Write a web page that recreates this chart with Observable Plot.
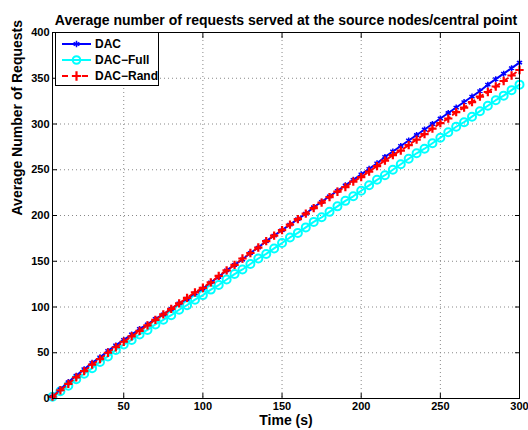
<!DOCTYPE html>
<html>
<head>
<meta charset="utf-8">
<script src="https://cdn.jsdelivr.net/npm/d3@7"></script>
<script src="https://cdn.jsdelivr.net/npm/@observablehq/plot@0.6"></script>
<style>
  body { margin: 0; background: #fff; }
  #chart { position: relative; width: 528px; height: 430px; font-family: "Liberation Sans", Arial, sans-serif; }
  #legend { position: absolute; left: 55px; top: 32px; width: 104px; height: 54px; border: 1px solid #000; background: #fff; box-sizing: border-box; }
  .row { position: absolute; left: 0; height: 16px; display: flex; align-items: center; font-weight: bold; font-size: 12px; color: #000; white-space: nowrap; }
  .row svg { margin-left: 5px; margin-right: 3px; }
</style>
</head>
<body>
<div id="chart"><div id="legend"></div></div>
<script>
// Simulation time in seconds (sampled every 5 s)
const time = [5, 10, 15, 20, 25, 30, 35, 40, 45, 50, 55, 60, 65, 70, 75, 80, 85, 90, 95, 100,
  105, 110, 115, 120, 125, 130, 135, 140, 145, 150, 155, 160, 165, 170, 175, 180, 185, 190, 195, 200,
  205, 210, 215, 220, 225, 230, 235, 240, 245, 250, 255, 260, 265, 270, 275, 280, 285, 290, 295, 300];

// Average number of requests served
const dac = [2, 10, 18, 25, 32, 39, 45, 52, 58, 64, 70, 76, 81, 87, 92, 98, 104, 109, 115, 120,
  127, 133, 140, 146, 152, 159, 165, 172, 178, 184, 190, 196, 202, 209, 215, 221, 227, 233, 239, 245,
  251, 257, 264, 270, 276, 282, 288, 294, 300, 306, 312, 318, 324, 330, 336, 343, 349, 355, 361, 367];
const dacFull = [2, 8, 14, 21, 27, 33, 40, 46, 53, 59, 64, 70, 75, 81, 86, 91, 97, 102, 108, 113,
  119, 124, 130, 136, 141, 147, 153, 158, 164, 170, 176, 181, 187, 193, 198, 204, 210, 216, 221, 227,
  233, 239, 244, 250, 256, 262, 268, 273, 279, 285, 291, 297, 302, 308, 314, 320, 326, 331, 337, 343];
const dacRand = [2, 9, 16, 23, 30, 37, 43, 50, 56, 62, 68, 74, 80, 86, 92, 98, 104, 110, 116, 121,
  127, 134, 140, 146, 153, 159, 165, 172, 178, 184, 190, 196, 202, 208, 214, 220, 226, 231, 237, 242,
  248, 254, 260, 266, 271, 277, 283, 289, 295, 301, 306, 313, 318, 324, 330, 335, 341, 347, 353, 359];

const xTicks = [50, 100, 150, 200, 250, 300];
const yTicks = [0, 50, 100, 150, 200, 250, 300, 350, 400];

const titleText = "Average number of requests served at the source nodes/central point";
const xLabel = "Time (s)";
const yLabel = "Average Number of Requests";

const toRows = (vals) => vals.map((v, i) => ({t: time[i], v}));
const rowsDac = toRows(dac), rowsFull = toRows(dacFull), rowsRand = toRows(dacRand);

const gridStyle = {stroke: "#888", strokeOpacity: 1, strokeWidth: 1, strokeDasharray: "1,3"};

const chart = Plot.plot({
  width: 528,
  height: 430,
  marginLeft: 52,
  marginRight: 9,
  marginTop: 32,
  marginBottom: 32,
  style: {fontFamily: "'Liberation Sans', Arial, sans-serif", fontWeight: "bold", fontSize: "11px", color: "#000", background: "#fff"},
  x: {domain: [5, 300]},
  y: {domain: [0, 400]},
  marks: [
    Plot.gridX(xTicks, gridStyle),
    Plot.gridY(yTicks, gridStyle),
    // DAC-Full: cyan solid line with circles
    Plot.line(rowsFull, {x: "t", y: "v", stroke: "#00ffff", strokeWidth: 2}),
    Plot.dot(rowsFull, {x: "t", y: "v", r: 4, stroke: "#00ffff", strokeWidth: 2, fill: "none"}),
    // DAC: blue solid line with star markers
    Plot.line(rowsDac, {x: "t", y: "v", stroke: "#0000ff", strokeWidth: 2}),
    Plot.dot(rowsDac, {x: "t", y: "v", r: 2.8, symbol: "asterisk", stroke: "#0000ff", strokeWidth: 1.5}),
    // DAC-Rand: red dashed line with plus markers
    Plot.line(rowsRand, {x: "t", y: "v", stroke: "#ff0000", strokeWidth: 2, strokeDasharray: "6,4"}),
    Plot.dot(rowsRand, {x: "t", y: "v", r: 2.8, symbol: "plus", stroke: "#ff0000", strokeWidth: 2.2}),
    Plot.frame({stroke: "#000", strokeWidth: 1}),
    Plot.axisX({ticks: xTicks, anchor: "bottom", tickSize: -5, tickPadding: 9, label: null, fontSize: 11, fontWeight: "bold"}),
    Plot.axisX({ticks: xTicks, anchor: "top", tickSize: -5, tickFormat: () => "", label: null}),
    Plot.axisY({ticks: yTicks, anchor: "left", tickSize: -5, tickPadding: 8, label: null, fontSize: 11, fontWeight: "bold"}),
    Plot.axisY({ticks: yTicks, anchor: "right", tickSize: -5, tickFormat: () => "", label: null}),
    Plot.text([titleText], {frameAnchor: "top", dy: -17, fontSize: 14, fontWeight: "bold"}),
    Plot.text([xLabel], {frameAnchor: "bottom", dy: 26, fontSize: 14, fontWeight: "bold"}),
    Plot.text([yLabel], {frameAnchor: "left", dx: -35, rotate: -90, fontSize: 14, fontWeight: "bold"})
  ]
});
document.getElementById("chart").prepend(chart);

// Legend entries
const legendItems = [
  {name: "DAC", color: "#0000ff", dash: null, symbol: d3.symbolAsterisk, sw: 1.5, size: 30},
  {name: "DAC\u2212Full", color: "#00ffff", dash: null, symbol: d3.symbolCircle, sw: 2, size: 45},
  {name: "DAC\u2212Rand", color: "#ff0000", dash: "6,4", symbol: d3.symbolPlus, sw: 2.2, size: 30}
];
const legend = d3.select("#legend");
legendItems.forEach((d, i) => {
  const row = legend.append("div").attr("class", "row").style("top", (3 + i * 16) + "px");
  const svg = row.append("svg").attr("width", 31).attr("height", 12);
  svg.append("line").attr("x1", 1).attr("x2", 30).attr("y1", 6).attr("y2", 6)
    .attr("stroke", d.color).attr("stroke-width", 2).attr("stroke-dasharray", d.dash);
  svg.append("path").attr("transform", "translate(15.5,6)")
    .attr("d", d3.symbol(d.symbol, d.size)())
    .attr("fill", "none").attr("stroke", d.color).attr("stroke-width", d.sw);
  row.append("span").text(d.name);
});
</script>
</body>
</html>
